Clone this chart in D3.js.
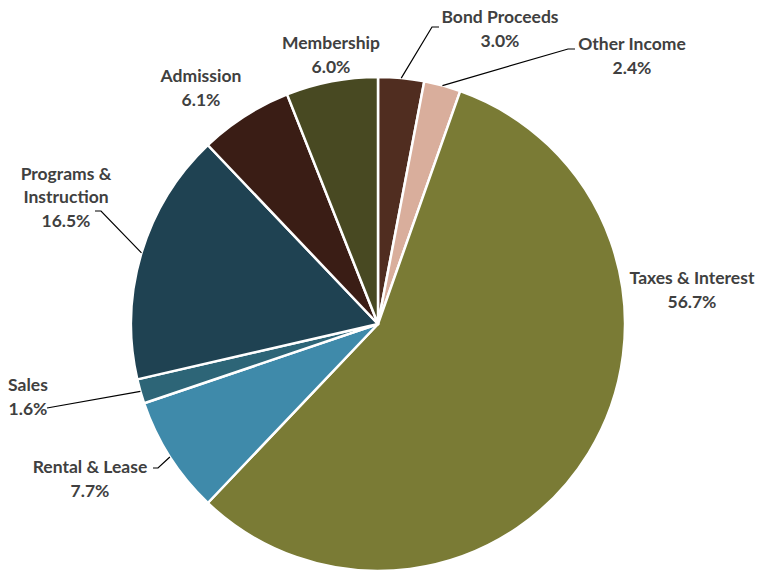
<!DOCTYPE html>
<html>
<head>
<meta charset="utf-8">
<script src="https://cdn.jsdelivr.net/npm/d3@7/dist/d3.min.js"></script>
<style>
  html, body { margin: 0; padding: 0; background: #fff; }
  svg { display: block; }
  .lbl { font-family: "Lato", "Open Sans", sans-serif; font-weight: 700; font-size: 17.5px; fill: #404040; }
</style>
</head>
<body>
<svg id="chart" width="764" height="571"></svg>
<script>
// Revenue sources, clockwise from 12 o'clock
const categories = ["Bond Proceeds", "Other Income", "Taxes & Interest", "Rental & Lease",
                    "Sales", "Programs & Instruction", "Admission", "Membership"];
const shares = [3.0, 2.4, 56.7, 7.7, 1.6, 16.5, 6.1, 6.0];
const labelLines = [["Bond Proceeds"], ["Other Income"], ["Taxes & Interest"], ["Rental & Lease"],
                    ["Sales"], ["Programs &", "Instruction"], ["Admission"], ["Membership"]];
const colors = ["#502d20", "#d9ae9c", "#7a7b35", "#3f8aaa", "#2d6577", "#1f4252", "#3a1d15", "#484922"];

// label placement: centre of text block, and elbow point of the leader (null = no leader)
const labelPos = [
  { x: 500, y: 29, elbow: [432, 27], end: [439, 27] },
  { x: 632, y: 56, elbow: [568, 49], end: [575, 49] },
  { x: 692, y: 290, elbow: null },
  { x: 90,  y: 479, elbow: [158, 468], end: [153, 468] },
  { x: 28,  y: 397, elbow: [47, 408], end: [47, 408] },
  { x: 66,  y: 197, elbow: [101, 211], end: [95, 211] },
  { x: 201, y: 88,  elbow: null },
  { x: 331, y: 55,  elbow: null }
];

const svg = d3.select("#chart");
const cx = 378, cy = 324, r = 247;
const g = svg.append("g").attr("transform", `translate(${cx},${cy})`);

const data = categories.map((c, i) => ({ name: c, value: shares[i], i }));
const pie = d3.pie().value(d => d.value).sort(null);
const arcs = pie(data);
const arc = d3.arc().innerRadius(0).outerRadius(r);

g.selectAll("path.slice")
  .data(arcs)
  .join("path")
  .attr("class", "slice")
  .attr("d", arc)
  .attr("fill", d => colors[d.data.i])
  .attr("stroke", "#fff")
  .attr("stroke-width", 2.5)
  .attr("stroke-linejoin", "round");

// leader lines from slice edge to label
arcs.forEach(a => {
  const p = labelPos[a.data.i];
  if (!p.elbow) return;
  const mid = (a.startAngle + a.endAngle) / 2;
  const sx = cx + r * Math.sin(mid), sy = cy - r * Math.cos(mid);
  svg.append("polyline")
    .attr("points", [[sx, sy], p.elbow, p.end].map(q => q.join(",")).join(" "))
    .attr("fill", "none")
    .attr("stroke", "#000")
    .attr("stroke-width", 1.2);
});

// category name and percentage labels
arcs.forEach(a => {
  const i = a.data.i;
  const p = labelPos[i];
  const lines = labelLines[i].concat([d3.format(".1f")(a.data.value) + "%"]);
  const lh = 23.5;
  const t = svg.append("text")
    .attr("class", "lbl")
    .attr("text-anchor", "middle");
  lines.forEach((s, k) => {
    t.append("tspan")
      .attr("x", p.x)
      .attr("y", p.y - (lines.length - 1) * lh / 2 + k * lh)
      .attr("dy", "0.35em")
      .text(s);
  });
});
</script>
</body>
</html>
